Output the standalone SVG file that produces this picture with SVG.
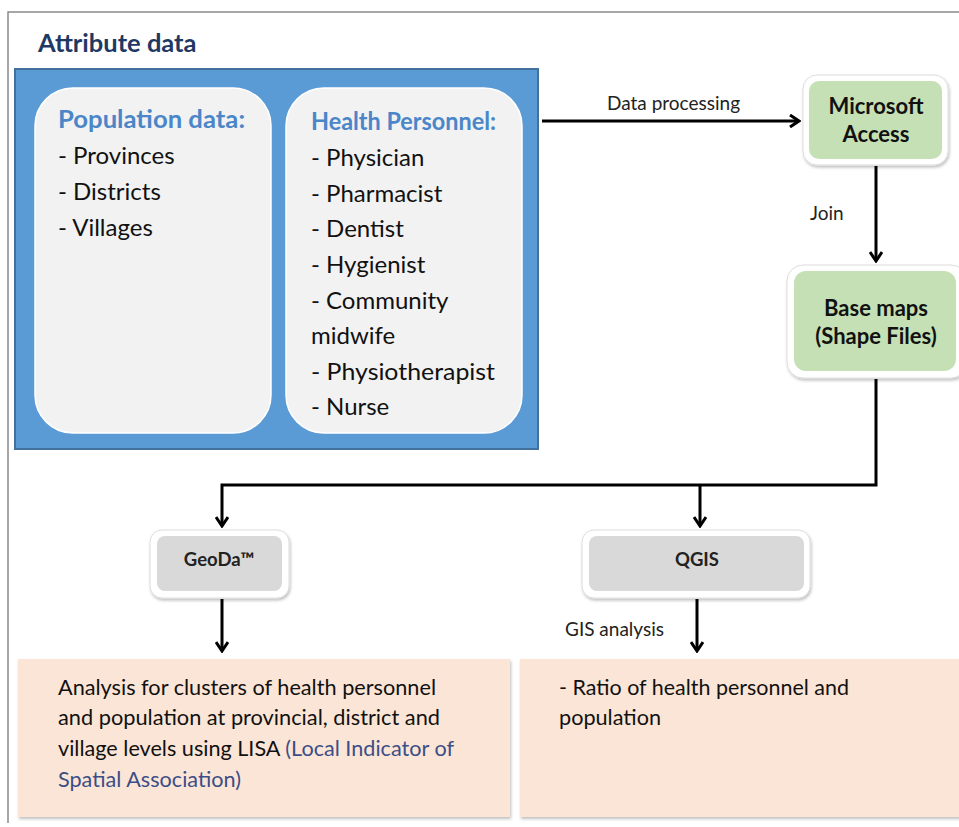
<svg xmlns="http://www.w3.org/2000/svg" width="959" height="827" viewBox="0 0 959 827">
<defs>
<marker id="arr" markerWidth="12" markerHeight="14" refX="10" refY="7" orient="auto" markerUnits="userSpaceOnUse">
<path d="M1,1 L10,7 L1,13" fill="none" stroke="#000" stroke-width="3"/>
</marker>
<filter id="sh" x="-10%" y="-10%" width="130%" height="130%">
<feDropShadow dx="1" dy="2" stdDeviation="1.5" flood-color="#000" flood-opacity="0.25"/>
</filter>
</defs>
<style>
text{font-family:Lato,"Open Sans","Liberation Sans",sans-serif;fill:#111}
.b{font-weight:bold}
.hd{fill:#4A86C8;font-weight:bold;font-size:25px}
.it{font-size:24px}
.lbl{font-size:19px;fill:#222}
.nd{font-size:22px;font-weight:bold;text-anchor:middle}
.sm{font-size:18.5px;font-weight:bold;text-anchor:middle;fill:#222}
.bt{font-size:21px;fill:#111}
.conn{fill:none;stroke:#000;stroke-width:3}
.outer{fill:#fff;stroke:#ddd;stroke-width:1}
</style>
<rect x="0" y="0" width="959" height="827" fill="#fff"/>
<path d="M8,823 L8,12 L959,12" fill="none" stroke="#8a8a8a" stroke-width="1.5"/>

<g id="attribute-data">
<text x="38" y="52" class="b" style="font-size:25.5px;fill:#1F3864">Attribute data</text>
<rect x="15" y="69" width="523" height="380" fill="#5B9BD5" stroke="#41719C" stroke-width="2"/>
</g>

<g id="population-data">
<rect x="35" y="88" width="236" height="345" rx="38" fill="#F2F2F2" stroke="#fff" stroke-width="1.5"/>
<text x="58" y="128" class="hd" textLength="187" lengthAdjust="spacingAndGlyphs">Population data:</text>
<text x="58" y="164" class="it">- Provinces</text>
<text x="58" y="200" class="it">- Districts</text>
<text x="58" y="236" class="it">- Villages</text>
</g>

<g id="health-personnel">
<rect x="286" y="88" width="236" height="345" rx="38" fill="#F2F2F2" stroke="#fff" stroke-width="1.5"/>
<text x="311" y="130" class="hd" textLength="185" lengthAdjust="spacingAndGlyphs">Health Personnel:</text>
<text x="311" y="166" class="it">- Physician</text>
<text x="311" y="202" class="it">- Pharmacist</text>
<text x="311" y="237" class="it">- Dentist</text>
<text x="311" y="273" class="it">- Hygienist</text>
<text x="311" y="309" class="it">- Community</text>
<text x="311" y="344" class="it">midwife</text>
<text x="311" y="380" class="it" textLength="184" lengthAdjust="spacingAndGlyphs">- Physiotherapist</text>
<text x="311" y="415" class="it">- Nurse</text>
</g>

<g id="microsoft-access">
<rect x="803" y="75" width="145" height="90" rx="14" class="outer" filter="url(#sh)"/>
<rect x="809" y="81" width="133" height="78" rx="10" fill="#C5E0B4"/>
<text x="876" y="114" class="nd">Microsoft</text>
<text x="876" y="142" class="nd">Access</text>
</g>

<g id="base-maps">
<rect x="787" y="265" width="180" height="113" rx="16" class="outer" filter="url(#sh)"/>
<rect x="794" y="271" width="162" height="100" rx="12" fill="#C5E0B4"/>
<text x="876" y="316" class="nd">Base maps</text>
<text x="876" y="344" class="nd">(Shape Files)</text>
</g>

<g id="geoda">
<rect x="150" y="530" width="139" height="68" rx="12" class="outer" filter="url(#sh)"/>
<rect x="157" y="536" width="125" height="55" rx="8" fill="#D9D9D9"/>
<text x="219" y="566" class="sm">GeoDa™</text>
</g>

<g id="qgis">
<rect x="582" y="530" width="228" height="68" rx="12" class="outer" filter="url(#sh)"/>
<rect x="589" y="536" width="215" height="55" rx="8" fill="#D9D9D9"/>
<text x="697" y="566" class="sm">QGIS</text>
</g>

<g id="lisa-analysis">
<rect x="18" y="659" width="492" height="158" fill="#FBE5D6" filter="url(#sh)"/>
<text x="58" y="695" class="bt" textLength="378" lengthAdjust="spacingAndGlyphs">Analysis for clusters of health personnel</text>
<text x="58" y="725" class="bt" textLength="382" lengthAdjust="spacingAndGlyphs">and population at provincial, district and</text>
<text x="58" y="756" class="bt" textLength="396" lengthAdjust="spacingAndGlyphs">village levels using LISA <tspan fill="#3B4E87">(Local Indicator of</tspan></text>
<text x="58" y="787" class="bt" textLength="183" lengthAdjust="spacingAndGlyphs" style="fill:#3B4E87">Spatial Association)</text>
</g>

<g id="ratio">
<rect x="520" y="659" width="445" height="158" fill="#FBE5D6" filter="url(#sh)"/>
<text x="559" y="695" class="bt" textLength="290" lengthAdjust="spacingAndGlyphs">- Ratio of health personnel and</text>
<text x="559" y="725" class="bt" textLength="102" lengthAdjust="spacingAndGlyphs">population</text>
</g>

<g id="connectors">
<line x1="542" y1="121" x2="799" y2="121" class="conn" marker-end="url(#arr)"/>
<text x="607" y="110" class="lbl">Data processing</text>
<line x1="876" y1="166" x2="876" y2="261" class="conn" marker-end="url(#arr)"/>
<text x="810" y="220" class="lbl">Join</text>
<path d="M876,379 L876,485 L222,485 L222,526" class="conn" marker-end="url(#arr)"/>
<line x1="700" y1="485" x2="700" y2="526" class="conn" marker-end="url(#arr)"/>
<line x1="222" y1="599" x2="222" y2="651" class="conn" marker-end="url(#arr)"/>
<line x1="697" y1="599" x2="697" y2="651" class="conn" marker-end="url(#arr)"/>
<text x="565" y="636" class="lbl">GIS analysis</text>
</g>
</svg>
